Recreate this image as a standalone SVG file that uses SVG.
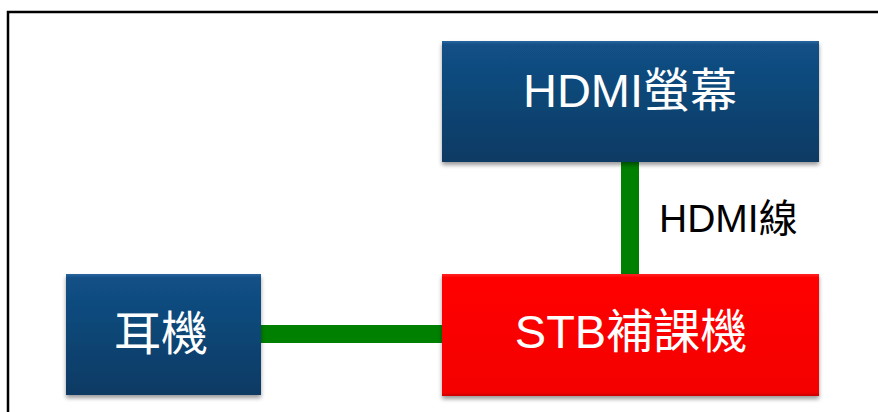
<svg xmlns="http://www.w3.org/2000/svg" width="878" height="412" viewBox="0 0 878 412">
<style>
.lbl{font-family:"Liberation Sans","Noto Sans CJK TC",sans-serif;font-size:47px;fill:#ffffff;text-anchor:middle}
.cap{font-family:"Liberation Sans","Noto Sans CJK TC",sans-serif;font-size:39px;fill:#000000}
.blue{fill:url(#gBlue)}
.red{fill:url(#gRed)}
.wire{stroke:#008000;stroke-width:18;fill:none}
</style>
<defs>
<linearGradient id="gBlue" x1="0" y1="0" x2="0" y2="1">
<stop offset="0" stop-color="#2a66a0"/>
<stop offset="0.03" stop-color="#125086"/>
<stop offset="1" stop-color="#0c3a63"/>
</linearGradient>
<linearGradient id="gRed" x1="0" y1="0" x2="0" y2="1">
<stop offset="0" stop-color="#ff2020"/>
<stop offset="0.03" stop-color="#ff0000"/>
<stop offset="0.97" stop-color="#f40000"/>
<stop offset="1" stop-color="#c80000"/>
</linearGradient>
<filter id="sh" x="-10%" y="-10%" width="120%" height="130%">
<feGaussianBlur in="SourceAlpha" stdDeviation="2"/>
<feOffset dx="0" dy="3" result="b"/>
<feComponentTransfer><feFuncA type="linear" slope="0.4"/></feComponentTransfer>
<feMerge><feMergeNode/><feMergeNode in="SourceGraphic"/></feMerge>
</filter>
</defs>
<path d="M8,412 V12 H878" fill="none" stroke="#000" stroke-width="2.5"/>
<g id="connectors">
<line class="wire" x1="630" y1="160" x2="630" y2="276"/>
<line class="wire" x1="259" y1="334" x2="444" y2="334"/>
</g>
<g id="label-hdmi-cable">
<text class="cap" x="659" y="232">HDMI線</text>
</g>
<g id="node-hdmi-screen">
<rect class="blue" x="442" y="41" width="377" height="121" filter="url(#sh)"/>
<text class="lbl" x="630" y="107">HDMI螢幕</text>
</g>
<g id="node-earphone">
<rect class="blue" x="66" y="274" width="195" height="121" filter="url(#sh)"/>
<text class="lbl" x="161" y="350">耳機</text>
</g>
<g id="node-stb">
<rect class="red" x="442" y="274" width="377" height="122" filter="url(#sh)"/>
<text class="lbl" x="631" y="348">STB補課機</text>
</g>
</svg>
